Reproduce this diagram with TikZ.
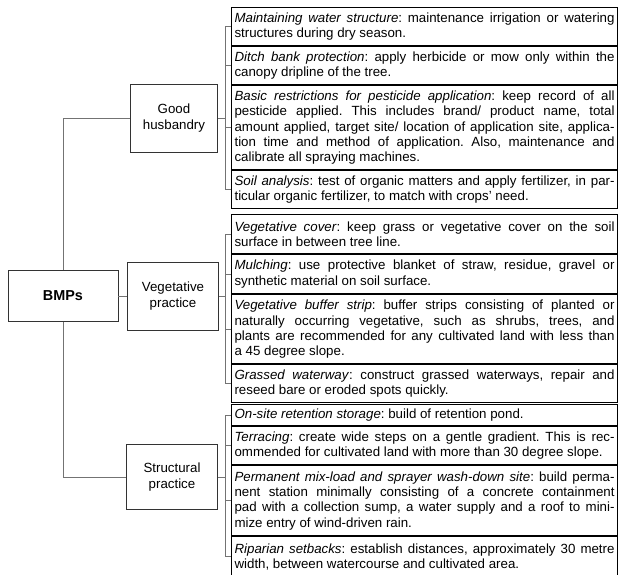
\documentclass[tikz,border=0pt]{standalone}
\usepackage{fontspec}
\setmainfont{Liberation Sans}
\usetikzlibrary{positioning}
\tolerance=10000
\hyphenpenalty=10000
\exhyphenpenalty=10000
\frenchspacing
\begin{document}
\begin{tikzpicture}[x=1pt, y=-1pt,
  box/.style={draw=black!80, line width=0.8pt, minimum width=91pt, minimum height=68pt,
    align=center, font=\fontsize{13.3}{15.5}\selectfont},
  item/.style={draw, line width=1.1pt, text width=380pt, inner xsep=3pt, inner ysep=1pt,
    align=justify, anchor=north west, font=\fontsize{13.3}{15.3}\selectfont},
  link/.style={draw=black!55, line width=0.8pt}]

\useasboundingbox (0,0) rectangle (620,574);
\clip (0,0) rectangle (620,574);

\node [box, minimum width=110pt, minimum height=51pt, font=\bfseries\fontsize{14.4}{16}\selectfont] (bmp) at (63,296) {BMPs};
\node [box, minimum width=87pt] (gh) at (174,118) {Good\\husbandry};
\node [box] (vp) at (173,296) {Vegetative\\practice};
\node [box, minimum height=65pt] (sp) at (172,477) {Structural\\practice};

\node [item, minimum height=38pt] (gh1) at (231,7)
  {\textit{Maintaining water structure}: maintenance irrigation or watering\linebreak structures during dry season.};
\node [item, minimum height=38pt, below=0pt of gh1] (gh2)
  {\textit{Ditch bank protection}: apply herbicide or mow only within the\linebreak canopy dripline of the tree.};
\node [item, minimum height=84pt, below=0pt of gh2] (gh3)
  {\textit{Basic restrictions for pesticide application}: keep record of all\linebreak pesticide applied. This includes brand/ product name, total\linebreak amount applied, target site/ location of application site, applica-\linebreak tion time and method of application. Also, maintenance and\linebreak calibrate all spraying machines.};
\node [item, minimum height=38pt, below=0pt of gh3] (gh4)
  {\textit{Soil analysis}: test of organic matters and apply fertilizer, in par-\linebreak ticular organic fertilizer, to match with crops’ need.};

\node [item, minimum height=39pt] (vp1) at (231,214)
  {\textit{Vegetative cover}: keep grass or vegetative cover on the soil\linebreak surface in between tree line.};
\node [item, minimum height=39pt, below=0pt of vp1] (vp2)
  {\textit{Mulching}: use protective blanket of straw, residue, gravel or\linebreak synthetic material on soil surface.};
\node [item, minimum height=69pt, below=0pt of vp2] (vp3)
  {\textit{Vegetative buffer strip}: buffer strips consisting of planted or\linebreak naturally occurring vegetative, such as shrubs, trees, and\linebreak plants are recommended for any cultivated land with less than\linebreak a 45 degree slope.};
\node [item, minimum height=38pt, below=0pt of vp3] (vp4)
  {\textit{Grassed waterway}: construct grassed waterways, repair and\linebreak reseed bare or eroded spots quickly.};

\node [item, minimum height=21pt] (sp1) at (231,404)
  {\textit{On-site retention storage}: build of retention pond.};
\node [item, minimum height=38pt, below=0pt of sp1] (sp2)
  {\textit{Terracing}: create wide steps on a gentle gradient. This is rec-\linebreak ommended for cultivated land with more than 30 degree slope.};
\node [item, minimum height=70pt, below=0pt of sp2] (sp3)
  {\textit{Permanent mix-load and sprayer wash-down site}: build perma-\linebreak nent station minimally consisting of a concrete containment\linebreak pad with a collection sump, a water supply and a roof to mini-\linebreak mize entry of wind-driven rain.};
\node [item, minimum height=40pt, below=0pt of sp3] (sp4)
  {\textit{Riparian setbacks}: establish distances, approximately 30 metre\linebreak width, between watercourse and cultivated area.};

\coordinate (ghb) at (225,0);
\coordinate (vpb) at (225,0);
\coordinate (spb) at (225,0);

\draw [link] (bmp.north) |- (gh.west);
\draw [link] (bmp.east) -- (vp.west);
\draw [link] (bmp.south) |- (sp.west);

\draw [link] (gh.east) -- (gh.east -| ghb)
  (ghb |- gh1.west) -- (ghb |- gh4.west)
  (ghb |- gh1.west) -- (gh1.west) (ghb |- gh2.west) -- (gh2.west)
  (ghb |- gh3.west) -- (gh3.west) (ghb |- gh4.west) -- (gh4.west);
\draw [link] (vp.east) -- (vp.east -| vpb)
  (vpb |- vp1.west) -- (vpb |- vp4.west)
  (vpb |- vp1.west) -- (vp1.west) (vpb |- vp2.west) -- (vp2.west)
  (vpb |- vp3.west) -- (vp3.west) (vpb |- vp4.west) -- (vp4.west);
\draw [link] (sp.east) -- (sp.east -| spb)
  (spb |- sp1.west) -- (spb |- sp4.west)
  (spb |- sp1.west) -- (sp1.west) (spb |- sp2.west) -- (sp2.west)
  (spb |- sp3.west) -- (sp3.west) (spb |- sp4.west) -- (sp4.west);
\end{tikzpicture}
\end{document}
